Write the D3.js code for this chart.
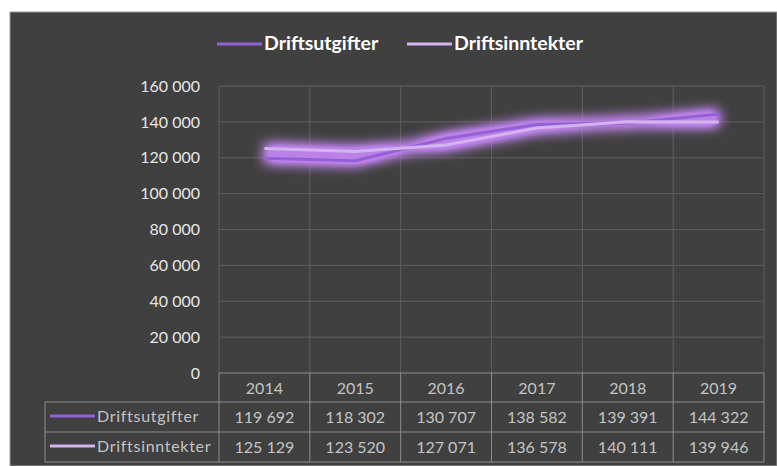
<!DOCTYPE html>
<html><head><meta charset="utf-8">
<script src="https://cdn.jsdelivr.net/npm/d3@7"></script>
<style>html,body{margin:0;padding:0;background:#fff;}svg{display:block;}</style>
</head><body>
<script>
const years = ["2014","2015","2016","2017","2018","2019"];
const seriesNames = ["Driftsutgifter","Driftsinntekter"];
const driftsutgifter = [119692,118302,130707,138582,139391,144322];
const driftsinntekter = [125129,123520,127071,136578,140111,139946];
const yTicks = [0,20000,40000,60000,80000,100000,120000,140000,160000];
const colors = ["#9460d6","#d2b4ef"];
const seriesValues = [driftsutgifter, driftsinntekter];

(function(){
const W=777,H=466;
const svg=d3.select("body").append("svg").attr("width",W).attr("height",H);
const defs=svg.append("defs");
const f=defs.append("filter").attr("id","glow").attr("x","-20%").attr("y","-60%").attr("width","140%").attr("height","220%");
f.append("feGaussianBlur").attr("in","SourceAlpha").attr("stdDeviation",6.5).attr("result","b");
f.append("feColorMatrix").attr("in","b").attr("type","matrix")
 .attr("values","0 0 0 0 0.5  0 0 0 0 0.22  0 0 0 0 0.8  0 0 0 1.9 0").attr("result","g");
const fm=f.append("feMerge");
fm.append("feMergeNode").attr("in","g");

svg.append("rect").attr("x",10).attr("y",12).attr("width",W-10).attr("height",H-12)
  .attr("fill","#404040").attr("stroke","#9a9a9a").attr("stroke-width",1);

const pl=219,pr=764,pt=86,pb=373;
const x=d3.scaleBand().domain(years).range([pl,pr]);
const y=d3.scaleLinear().domain([0,160000]).range([pb,pt]);
const fmt=v=>d3.format(",")(v).replace(/,/g," ");
const font="Lato, 'Open Sans', sans-serif";

// gridlines
const g=svg.append("g");
g.selectAll("line.h").data(yTicks.slice(1)).join("line")
 .attr("x1",pl).attr("x2",pr).attr("y1",d=>y(d)).attr("y2",d=>y(d))
 .attr("stroke","#5e5e5e").attr("stroke-width",1);
g.selectAll("line.v").data(years.concat(["end"])).join("line")
 .attr("x1",(d,i)=>pl+i*x.bandwidth()).attr("x2",(d,i)=>pl+i*x.bandwidth())
 .attr("y1",pt).attr("y2",pb).attr("stroke","#5e5e5e").attr("stroke-width",1);

// y axis labels
const yAxis=d3.axisLeft(y).tickValues(yTicks).tickFormat(fmt).tickSize(0).tickPadding(0);
const ya=svg.append("g").attr("transform",`translate(${pl-19},0)`).call(yAxis);
ya.select(".domain").remove();
ya.selectAll("text").attr("fill","#e6e6e6").style("font-family",font).style("font-size","16px");

// lines
const line=d3.line().x((d,i)=>x(years[i])+x.bandwidth()/2).y(d=>y(d));
const glowG=svg.append("g").attr("filter","url(#glow)");
seriesValues.forEach((s,k)=>{
  glowG.append("path").attr("d",line(s)).attr("fill","none").attr("stroke",colors[k]).attr("stroke-width",8);
});
seriesValues.forEach((s,k)=>{
  svg.append("path").attr("d",line(s)).attr("fill","none").attr("stroke",colors[k])
   .attr("stroke-width",3).attr("stroke-linejoin","round");
});

// legend
const leg=[{x:217,name:seriesNames[0],c:colors[0]},{x:407,name:seriesNames[1],c:colors[1]}];
leg.forEach(l=>{
  svg.append("line").attr("x1",l.x).attr("x2",l.x+45).attr("y1",44).attr("y2",44)
   .attr("stroke",l.c).attr("stroke-width",3);
  svg.append("text").attr("x",l.x+47).attr("y",50).text(l.name).attr("fill","#ffffff")
   .style("font-family",font).style("font-weight","bold").style("font-size","19.5px");
});

// data table
const tb="#8c8c8c";
const rowY=[373,402,432,462];
svg.append("line").attr("x1",pl).attr("x2",pr).attr("y1",rowY[0]).attr("y2",rowY[0]).attr("stroke",tb);
[1,2,3].forEach(r=>{
  svg.append("line").attr("x1",45).attr("x2",pr).attr("y1",rowY[r]).attr("y2",rowY[r]).attr("stroke",tb);
});
svg.append("line").attr("x1",45).attr("x2",45).attr("y1",rowY[1]).attr("y2",rowY[3]).attr("stroke",tb);
years.concat(["end"]).forEach((d,i)=>{
  svg.append("line").attr("x1",pl+i*x.bandwidth()).attr("x2",pl+i*x.bandwidth())
   .attr("y1",rowY[0]).attr("y2",rowY[3]).attr("stroke",tb);
});
const tcol="#c4c4c4";
svg.selectAll("text.yr").data(years).join("text")
 .attr("x",d=>x(d)+x.bandwidth()/2).attr("y",(rowY[0]+rowY[1])/2+6).attr("text-anchor","middle")
 .text(d=>d).attr("fill",tcol).style("font-family",font).style("font-size","16px");
seriesValues.forEach((s,k)=>{
  const cy=(rowY[k+1]+rowY[k+2])/2;
  svg.append("line").attr("x1",50).attr("x2",95).attr("y1",cy-1).attr("y2",cy-1)
   .attr("stroke",colors[k]).attr("stroke-width",3);
  svg.append("text").attr("x",97).attr("y",cy+5).text(seriesNames[k]).attr("fill",tcol)
   .style("font-family",font).style("font-size","16px").style("letter-spacing","0.7px");
  svg.selectAll(null).data(s).join("text")
   .attr("x",(d,i)=>x(years[i])+x.bandwidth()/2).attr("y",cy+6).attr("text-anchor","middle")
   .text(d=>fmt(d)).attr("fill",tcol).style("font-family",font).style("font-size","16px");
});
})();
</script>
</body></html>
